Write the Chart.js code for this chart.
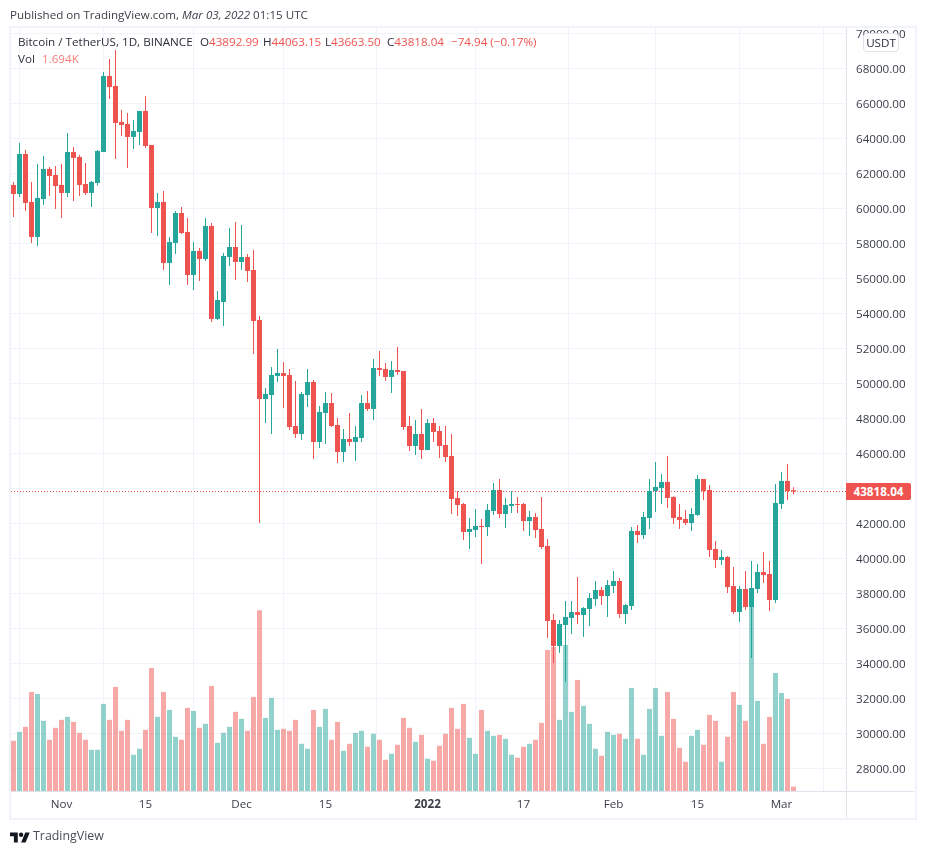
<!DOCTYPE html>
<html>
<head>
<meta charset="utf-8">
<script src="https://cdn.jsdelivr.net/npm/chart.js@4"></script>
<style>
html,body{margin:0;padding:0;background:#fff;width:926px;height:854px;overflow:hidden;font-family:"Open Sans","Noto Sans",sans-serif;color:#131722}
.abs{position:absolute;white-space:pre}
#frame{left:9px;top:26px;width:904px;height:790px;border:2px solid #f0f3fa}
#c{position:absolute;left:0;top:0}
.r{color:#ef5350}
</style>
</head>
<body>
<div id="frame" class="abs"></div>
<canvas id="c" width="926" height="854" style="width:926px;height:854px"></canvas>
<div class="abs" style="left:10px;top:7px;font-size:11.6px;line-height:16px;color:#3a3e48">Published on TradingView.com, <i>Mar 03, 2022</i> 01:15 UTC</div>
<div class="abs" style="left:18px;top:34px;font-size:11.65px;line-height:16px;color:#2a2e39;">Bitcoin / TetherUS, 1D, BINANCE</div>
<div class="abs" style="left:200px;top:34px;font-size:11.65px;line-height:16px;color:#2a2e39;">O<span class="r">43892.99</span></div>
<div class="abs" style="left:263px;top:34px;font-size:11.65px;line-height:16px;color:#2a2e39;">H<span class="r">44063.15</span></div>
<div class="abs" style="left:325px;top:34px;font-size:11.65px;line-height:16px;color:#2a2e39;">L<span class="r">43663.50</span></div>
<div class="abs" style="left:387px;top:34px;font-size:11.65px;line-height:16px;color:#2a2e39;">C<span class="r">43818.04</span></div>
<div class="abs r" style="left:451px;top:34px;font-size:11.65px;line-height:16px;">−74.94 (−0.17%)</div>
<div class="abs" style="left:18px;top:51px;font-size:11.65px;line-height:16px;color:#2a2e39;">Vol</div>
<div class="abs" style="left:42px;top:51px;font-size:11.65px;line-height:16px;color:#f47c7a;">1.694K</div>
<div class="abs" style="left:863px;top:33px;width:34px;height:17px;border:1px solid #e0e3eb;border-radius:4px;background:#fff;font-size:11.65px;line-height:17px;text-align:center;color:#2a2e39">USDT</div>
<div class="abs" style="left:846px;top:483px;width:65px;height:17px;background:#ef5350;border-radius:0 2px 2px 0;color:#fff;font-weight:700;font-size:11.65px;line-height:17px;text-align:center">43818.04</div>
<div class="abs" style="left:846px;top:791px;width:1px;height:27px;background:#e0e3eb"></div>
<div class="abs" style="left:846px;top:791px;width:68px;height:1px;background:#e0e3eb"></div>
<svg class="abs" style="left:10px;top:830px" width="20" height="16" viewBox="0 0 36 28"><path fill="#131722" d="M14 22H7V11H0V4h14v18zM28 22h-8l7.5-18h8L28 22z"/><circle fill="#131722" cx="20" cy="8" r="4"/></svg>
<div class="abs" style="left:33px;top:827px;font-size:12.4px;line-height:18px;color:#4a4e58">TradingView</div>
<script>
const opens=[61334,60819,63105,60362,58362,60533,62248,61905,61334,60876,63219,62934,61391,60876,61448,63219,67563,66991,64934,64820,64077,64362,65563,63620,60019,60362,56876,58019,59733,58647,56190,57562,57104,58990,53675,54647,57219,57790,56933,57219,56476,53618,49104,49333,50419,50590,50476,47561,47104,49333,50076,46647,48304,48876,47618,46075,46818,46647,46876,48876,48533,50876,50819,50362,50762,50705,47561,46418,47104,46190,47733,47276,46475,45847,43447,43104,41505,41619,41848,41790,42705,43905,42533,42991,43105,43105,42133,42362,41676,40705,36475,34990,36190,36590,36933,36761,37104,37676,38190,37847,38419,38704,36818,37276,41562,41333,42305,43848,44019,44362,43505,42362,42248,42019,42476,44534,43905,40533,39904,40076,38419,36933,38247,37218,38247,39219,39104,37618,43105,44419,43892.99];
const closes=[60819,63105,60305,58362,60591,62248,61848,61276,60876,63219,62877,61334,60876,61505,63277,67563,66934,64877,64763,64077,64420,65563,63562,60019,60362,56876,58076,59733,58590,56190,57562,57104,58990,53675,54761,57276,57790,56933,57219,56419,53561,49103,49390,50476,50590,50419,47504,47104,49390,50076,46647,48361,48876,47561,46075,46818,46647,46933,48876,48533,50876,50762,50362,50762,50647,47504,46418,47104,46190,47733,47218,46418,45790,43389,43046,41503,41676,41848,41785,42762,43905,42533,43048,43105,43050,42133,42362,41619,40647,36418,34990,36247,36647,36933,36761,37161,37733,38190,37847,38476,38704,36818,37333,41562,41333,42362,43848,44076,44362,43448,42305,42191,42019,42533,44534,43848,40476,39904,40076,38361,36933,38247,37218,38304,39219,39047,37618,43162,44419,43848,43818.04];
const highs=[61505,63734,63334,61505,62534,62991,62362,62419,62534,64305,63505,63048,62591,61562,63334,67791,68534,69049,65620,65448,65048,65563,66420,63620,60876,60991,58362,59848,60076,59448,58076,57733,59448,59162,55276,57447,58876,59219,59047,57390,57619,53847,49733,50933,51962,51219,50819,50133,49504,50819,50190,48704,49504,49447,48019,47390,48304,47561,49333,49562,51390,51848,51162,51276,52076,50705,48133,47904,48533,47961,48019,47561,47561,47104,43847,43161,42305,42819,42248,43105,44305,44534,43448,43848,43505,43162,42705,42591,43505,41105,36818,36475,37561,37561,38933,37218,38019,38704,38361,38761,39276,38876,37390,41790,41905,42648,44534,45505,44819,45848,43550,43105,42762,42876,44762,44534,44191,40990,40476,40133,39504,38419,39276,39847,39676,40362,39847,44248,44934,45391,44063.15];
const lows=[59505,60648,59848,58019,57847,60191,60705,59962,59448,60648,60419,60705,60762,60076,61300,63219,66248,62819,64134,62305,63391,63620,63448,58590,58419,56476,55618,57390,58533,55618,55333,55847,56990,53504,53618,53275,56704,55904,56476,55790,51675,42017,47733,47104,50076,48590,47333,46876,46761,48647,45675,46304,46533,47504,45447,45504,46418,45561,46647,48419,47904,50419,50133,49447,50476,47333,46133,45904,45675,46190,46647,45733,45504,42532,42418,41046,40533,41219,39676,41276,42476,42305,41733,42591,42591,41562,41276,41162,40533,35447,34018,34590,32932,35675,36247,35504,36133,37276,37333,36647,38019,36590,36247,37047,40876,41105,41676,42648,43105,42876,41962,41676,41905,41562,42419,43334,40076,39447,39619,38019,36818,36361,37047,34304,38019,38590,36990,37447,42819,43334,43663.5];
const volumes=[19630,23140,25090,38740,37960,27430,20020,24700,27820,28990,27040,22750,20020,16120,16120,34060,27820,40690,23530,27820,14170,16510,23920,48100,28990,38740,31720,21190,20020,32500,31330,24700,26260,41080,18850,22750,25090,30940,28210,23530,36790,70720,28600,36400,23920,24310,23530,27820,18460,16510,31720,25090,32110,20020,27040,15730,18460,22750,23530,17290,22360,20020,12220,14560,18070,28600,24700,19240,21970,12610,11830,17680,22360,32500,24310,34060,20800,14560,31720,23530,21580,21970,20410,14170,13000,17290,18460,20020,26650,55120,56290,27820,57070,30940,43420,33280,26260,16510,13780,23140,21970,22360,20410,40300,20410,14170,32110,40300,21580,38740,28210,16900,11440,21580,23920,18070,29770,27430,11440,21190,38740,33670,27430,74620,35230,18460,28990,46150,38350,36010,1694];
const tickIndex=[8,22,38,52,69,85,100,114,128];
const tickLabels=["Nov","15","Dec","15","2022","17","Feb","15","Mar"];
const lastPrice=43818.04;

const UP="#26a69a",DOWN="#ef5350",UPV="rgba(38,166,154,.5)",DOWNV="rgba(239,83,80,.5)";
const isUp=opens.map((o,i)=>closes[i]>=o);
const xMin=-2.5/6,xMax=xMin+835/6;
const fontFam='"Open Sans","Noto Sans",sans-serif';
const ch=new Chart(document.getElementById("c"),{
  type:"bar",
  data:{datasets:[
    {label:"Vol",yAxisID:"yv",order:4,barThickness:5,grouped:false,inflateAmount:0,
     data:volumes.map((v,i)=>({x:i,y:v})),
     backgroundColor:isUp.map(u=>u?UPV:DOWNV)},
    {type:"line",label:"Last",order:3,yAxisID:"y",borderColor:DOWN,borderWidth:1,borderDash:[1,2],pointRadius:0,
     data:[{x:xMin,y:lastPrice},{x:xMax,y:lastPrice}]},
    {label:"Wick",yAxisID:"y",order:2,barThickness:1,grouped:false,inflateAmount:0,
     data:highs.map((h,i)=>({x:i,y:[lows[i],h]})),
     backgroundColor:isUp.map(u=>u?UP:DOWN)},
    {label:"Body",yAxisID:"y",order:1,barThickness:5,grouped:false,inflateAmount:0,
     data:opens.map((o,i)=>({x:i,y:[o,closes[i]]})),
     backgroundColor:isUp.map(u=>u?UP:DOWN)}
  ]},
  options:{
    responsive:false,animation:false,devicePixelRatio:1,
    layout:{padding:{left:11,top:28,right:12,bottom:36}},
    plugins:{legend:{display:false},tooltip:{enabled:false},title:{display:false}},
    scales:{
      x:{type:"linear",min:xMin,max:xMax,offset:false,
        afterBuildTicks:s=>{s.ticks=tickIndex.map(v=>({value:v}))},
        afterFit:s=>{s.height=27;s.paddingLeft=0;s.paddingRight=0},
        grid:{color:"#f0f3fa",drawTicks:false},
        border:{color:"#e0e3eb"},
        ticks:{autoSkip:false,maxRotation:0,padding:7,color:"#3a3e48",
          font:c=>({family:fontFam,size:11.65,weight:c.tick&&c.tick.value===69?"700":"400"}),
          callback:v=>{const k=tickIndex.indexOf(v);return k<0?"":tickLabels[k]}}
      },
      y:{position:"right",min:26703,max:70303,
        afterBuildTicks:s=>{const t=[];for(let v=28000;v<=70000;v+=2000)t.push({value:v});s.ticks=t},
        afterFit:s=>{s.width=68;s.paddingTop=0;s.paddingBottom=0},
        grid:{color:"#f0f3fa",drawTicks:false},
        border:{color:"#e0e3eb"},
        ticks:{autoSkip:false,padding:10,labelOffset:1,color:"#3a3e48",font:{family:fontFam,size:11.65},callback:v=>v.toFixed(2)}
      },
      yv:{display:false,min:0,max:298333}
    }
  }
});
</script>
</body>
</html>
